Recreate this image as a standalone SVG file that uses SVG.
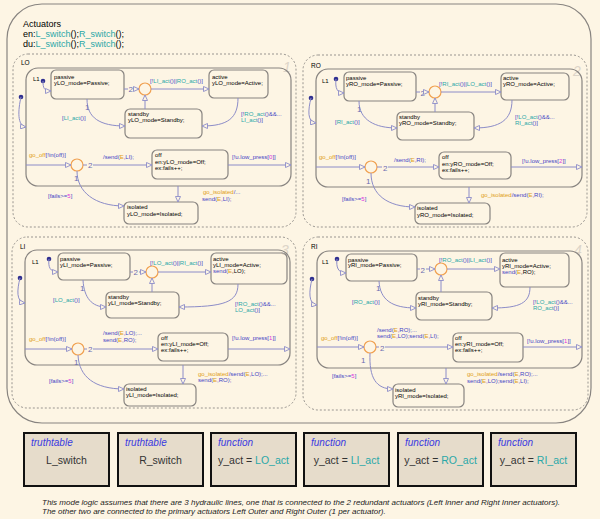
<svg xmlns="http://www.w3.org/2000/svg" width="600" height="519" viewBox="0 0 600 519">
<defs>
<marker id="ah" markerWidth="7" markerHeight="6" refX="6" refY="3" orient="auto" markerUnits="userSpaceOnUse"><path d="M0.5,0.5 L6,3 L0.5,5.5 Z" fill="#fdf5e4" stroke="#8c8cc8" stroke-width="0.9"/></marker>
</defs>
<style>
text{font-family:"Liberation Sans",Arial,sans-serif;font-size:6px;fill:#000}
.st{fill:none;stroke:#888480;stroke-width:1.2}
.dash{fill:none;stroke:#999590;stroke-width:1;stroke-dasharray:2 2}
.tr{fill:none;stroke:#8c8cc8;stroke-width:1;marker-end:url(#ah)}
.ln{fill:none;stroke:#8c8cc8;stroke-width:1}
.jn{fill:#fdf5e4;stroke:#f0a050;stroke-width:1.2}
.dot{fill:#303090}
.c{fill:#4444c4}
.f{fill:#2aa8a8}
.e{fill:#e0a020}
.n{fill:#e030e0}
.k{fill:#000}
.jl{font-size:8px;fill:#6c6cb0}
.rn{font-size:14px;font-style:italic;fill:#dcd4c8}
.rl{font-size:6.5px}
.hd{font-size:9px}
.bx{fill:#e6dccb;stroke:#111;stroke-width:2}
.bt{font-size:10px;font-style:italic;fill:#3a3ae0}
.bm{font-size:10.5px;fill:#333}
.fn{font-size:8px;font-style:italic;fill:#222}
</style>
<rect x="0" y="0" width="600" height="519" fill="#fdf5e4"/>

<g id="Actuators">
<rect class="st" x="7" y="4" width="584" height="419" rx="35" stroke="#a09c98"/>
<text class="hd" x="23" y="27">Actuators</text>
<text class="hd" x="23" y="37">en:<tspan class="f">L_switch</tspan>();<tspan class="f">R_switch</tspan>();</text>
<text class="hd" x="23" y="47">du:<tspan class="f">L_switch</tspan>();<tspan class="f">R_switch</tspan>();</text>
</g>

<!-- LO -->
<g id="LO">
<rect class="dash" x="13" y="54" width="283" height="173" rx="15"/>
<text class="rl" x="21" y="65">LO</text>
<text class="rn" x="283" y="72">1</text>
</g>
<g id="LO_L1"><rect class="st" x="26" y="68" width="265" height="118" rx="12"/><text x="33" y="80.5">L1</text></g>
<g id="LO_passive"><rect class="st" x="51" y="70" width="73" height="29" rx="5"/><text x="54" y="78.5">passive</text><text x="54" y="85">yLO_mode=Passive;</text></g>
<g id="LO_active"><rect class="st" x="209" y="70" width="59" height="28" rx="5"/><text x="212" y="78.5">active</text><text x="212" y="85">yLO_mode=Active;</text></g>
<g id="LO_standby"><rect class="st" x="125" y="109" width="77" height="29" rx="5"/><text x="128" y="115.5">standby</text><text x="128" y="121.5">yLO_mode=Standby;</text></g>
<g id="LO_off"><rect class="st" x="152" y="150" width="76" height="29" rx="5"/><text x="155" y="157">off</text><text x="155" y="163.5">en:yLO_mode=Off;</text><text x="155" y="169.5">ex:fails++;</text></g>
<g id="LO_isolated"><rect class="st" x="124" y="202" width="74" height="22" rx="5"/><text x="127" y="209">isolated</text><text x="127" y="215.5">yLO_mode=Isolated;</text></g>
<g id="LO_j1"><circle class="jn" cx="145" cy="89" r="6"/></g>
<g id="LO_j2"><circle class="jn" cx="77" cy="165" r="6"/></g>

<!-- RO -->
<g id="RO">
<rect class="dash" x="303" y="55" width="284" height="172" rx="15"/>
<text class="rl" x="311" y="68">RO</text>
<text class="rn" x="573" y="76">2</text>
</g>
<g id="RO_L1"><rect class="st" x="316" y="69" width="266" height="118" rx="12"/><text x="322" y="82.5">L1</text></g>
<g id="RO_passive"><rect class="st" x="344" y="72" width="72" height="29" rx="5"/><text x="346" y="79.5">passive</text><text x="346" y="85.5">yRO_mode=Passive;</text></g>
<g id="RO_active"><rect class="st" x="501" y="73" width="68" height="27" rx="5"/><text x="503" y="79.5">active</text><text x="503" y="85.5">yRO_mode=Active;</text></g>
<g id="RO_standby"><rect class="st" x="397" y="112" width="77" height="28" rx="5"/><text x="399" y="119">standby</text><text x="399" y="125">yRO_mode=Standby;</text></g>
<g id="RO_off"><rect class="st" x="439" y="152" width="72" height="27" rx="5"/><text x="442" y="159">off</text><text x="442" y="165.5">en:yRO_mode=Off;</text><text x="442" y="171.5">ex:fails++;</text></g>
<g id="RO_isolated"><rect class="st" x="415" y="203" width="75" height="21" rx="5"/><text x="417" y="210">isolated</text><text x="417" y="216.5">yRO_mode=Isolated;</text></g>
<g id="RO_j1"><circle class="jn" cx="435" cy="92" r="6"/></g>
<g id="RO_j2"><circle class="jn" cx="371" cy="167" r="6"/></g>

<!-- LI -->
<g id="LI">
<rect class="dash" x="12" y="237" width="284" height="171" rx="15"/>
<text class="rl" x="20" y="249">LI</text>
<text class="rn" x="281" y="255">3</text>
</g>
<g id="LI_L1"><rect class="st" x="25" y="250" width="265" height="115" rx="12"/><text x="32" y="264">L1</text></g>
<g id="LI_passive"><rect class="st" x="58" y="253" width="72" height="27" rx="5"/><text x="60" y="260.5">passive</text><text x="60" y="266.5">yLI_mode=Passive;</text></g>
<g id="LI_active"><rect class="st" x="211" y="253" width="76" height="31" rx="5"/><text x="213" y="260.5">active</text><text x="213" y="266.5">yLI_mode=Active;</text><text x="213" y="272.5"><tspan class="c">send(</tspan><tspan class="e">E</tspan>,LO);</text></g>
<g id="LI_standby"><rect class="st" x="106" y="292" width="73" height="26" rx="5"/><text x="108" y="299">standby</text><text x="108" y="304.5">yLI_mode=Standby;</text></g>
<g id="LI_off"><rect class="st" x="158" y="333" width="70" height="28" rx="5"/><text x="161" y="339.5">off</text><text x="161" y="346">en:yLI_mode=Off;</text><text x="161" y="352">ex:fails++;</text></g>
<g id="LI_isolated"><rect class="st" x="124" y="384" width="72" height="22" rx="5"/><text x="126" y="390.5">isolated</text><text x="126" y="396.5">yLI_mode=Isolated;</text></g>
<g id="LI_j1"><circle class="jn" cx="152" cy="272" r="6"/></g>
<g id="LI_j2"><circle class="jn" cx="78" cy="349" r="6"/></g>

<!-- RI -->
<g id="RI">
<rect class="dash" x="303" y="237" width="285" height="173" rx="15"/>
<text class="rl" x="311" y="249">RI</text>
<text class="rn" x="574" y="255">4</text>
</g>
<g id="RI_L1"><rect class="st" x="317" y="251" width="265" height="117" rx="12"/><text x="322" y="264">L1</text></g>
<g id="RI_passive"><rect class="st" x="346" y="254" width="71" height="27" rx="5"/><text x="348" y="261.5">passive</text><text x="348" y="267">yRI_mode=Passive;</text></g>
<g id="RI_active"><rect class="st" x="500" y="253" width="69" height="34" rx="5"/><text x="502" y="261.5">active</text><text x="502" y="267.5">yRI_mode=Active;</text><text x="502" y="273.5"><tspan class="c">send(</tspan><tspan class="e">E</tspan>,RO);</text></g>
<g id="RI_standby"><rect class="st" x="416" y="292" width="76" height="28" rx="5"/><text x="418" y="299.5">standby</text><text x="418" y="305.5">yRI_mode=Standby;</text></g>
<g id="RI_off"><rect class="st" x="453" y="333" width="70" height="29" rx="5"/><text x="455" y="339.5">off</text><text x="455" y="345.5">en:yRI_mode=Off;</text><text x="455" y="351.5">ex:fails++;</text></g>
<g id="RI_isolated"><rect class="st" x="393" y="384" width="71" height="23" rx="5"/><text x="395" y="391.5">isolated</text><text x="395" y="397.5">yRI_mode=Isolated;</text></g>
<g id="RI_j1"><circle class="jn" cx="441" cy="269" r="6"/></g>
<g id="RI_j2"><circle class="jn" cx="370" cy="347" r="6"/></g>

<g id="connectors">
<!-- LO -->
<circle class="dot" cx="43" cy="81" r="2.3"/>
<path class="tr" d="M43,81 C43,88 44,91 51,91"/>
<circle class="dot" cx="21" cy="97" r="2.3"/>
<path class="tr" d="M21,97 C18,110 17,126 26,127"/>
<path class="ln" d="M124,89 L128,89"/>
<text class="jl" x="128.5" y="92">2</text>
<path class="tr" d="M133,89 L139,89"/>
<path class="tr" d="M151,89 L209,89"/>
<path class="tr" d="M145,109 L145,95"/>
<path class="tr" d="M87,99 C87,118 100,126 125,126"/>
<text class="jl" x="85" y="109.5">1</text>
<path class="tr" d="M238,98 C238,118 228,126 202,126"/>
<path class="tr" d="M26,165 L71,165"/>
<path class="ln" d="M83,165 L87,165"/>
<text class="jl" x="88" y="168">2</text>
<path class="tr" d="M93,165 L152,165"/>
<path class="tr" d="M228,165 L291,165"/>
<path class="tr" d="M77,171 C77,192 95,206 124,206"/>
<text class="jl" x="74" y="180.5">1</text>
<path class="tr" d="M178,186 L178,202"/>
<text x="150" y="82.5"><tspan class="c">[!</tspan><tspan class="f">LI_act</tspan><tspan class="c">()||</tspan><tspan class="f">RO_act</tspan><tspan class="c">()]</tspan></text>
<text x="62" y="120"><tspan class="c">[</tspan><tspan class="f">LI_act</tspan><tspan class="c">()]</tspan></text>
<text x="241" y="115.5"><tspan class="c">[!</tspan><tspan class="f">RO_act</tspan><tspan class="c">()&amp;&amp;...</tspan></text>
<text x="241" y="121.5"><tspan class="f">LI_act</tspan><tspan class="c">()]</tspan></text>
<text x="29" y="156.5"><tspan class="e">go_off</tspan><tspan class="c">[!in(off)]</tspan></text>
<text x="103" y="159"><tspan class="c">/send(</tspan><tspan class="e">E</tspan><tspan class="c">,LI);</tspan></text>
<text x="232" y="159"><tspan class="c">[!u.low_press[</tspan><tspan class="n">0</tspan><tspan class="c">]]</tspan></text>
<text x="48" y="198"><tspan class="c">[fails&gt;=</tspan><tspan class="n">5</tspan><tspan class="c">]</tspan></text>
<text x="203" y="194"><tspan class="e">go_isolated</tspan><tspan class="c">/...</tspan></text>
<text x="202" y="200.5"><tspan class="c">send(</tspan><tspan class="e">E</tspan><tspan class="c">,LI);</tspan></text>

<!-- RO -->
<circle class="dot" cx="336" cy="79" r="2.3"/>
<path class="tr" d="M336,79 C335,88 337,93 344,93"/>
<circle class="dot" cx="311" cy="98" r="2.3"/>
<path class="tr" d="M311,98 C308,110 307,122 316,123"/>
<path class="ln" d="M416,92 L420,92"/>
<text class="jl" x="420.5" y="95.5">2</text>
<path class="tr" d="M425,92 L429,92"/>
<path class="tr" d="M441,92 L501,92"/>
<path class="tr" d="M435,112 L435,98"/>
<path class="tr" d="M359,101 C359,120 375,128 397,128"/>
<text class="jl" x="357" y="112">1</text>
<path class="tr" d="M512,100 C512,120 500,128 474,128"/>
<path class="tr" d="M316,167 L365,167"/>
<path class="ln" d="M377,167 L382,167"/>
<text class="jl" x="383" y="170.5">2</text>
<path class="tr" d="M388,167 L439,167"/>
<path class="tr" d="M511,167 L582,167"/>
<path class="tr" d="M371,173 C371,195 388,207 415,207"/>
<text class="jl" x="366" y="184">1</text>
<path class="tr" d="M469,187 L469,203"/>
<text x="439" y="85.5"><tspan class="c">[!</tspan><tspan class="f">RI_act</tspan><tspan class="c">()||</tspan><tspan class="f">LO_act</tspan><tspan class="c">()]</tspan></text>
<text x="335" y="124"><tspan class="c">[</tspan><tspan class="f">RI_act</tspan><tspan class="c">()]</tspan></text>
<text x="515" y="119"><tspan class="c">[!</tspan><tspan class="f">LO_act</tspan><tspan class="c">()&amp;&amp;...</tspan></text>
<text x="515" y="124.5"><tspan class="f">RI_act</tspan><tspan class="c">()]</tspan></text>
<text x="319" y="159"><tspan class="e">go_off</tspan><tspan class="c">[!in(off)]</tspan></text>
<text x="394" y="161.5"><tspan class="c">/send(</tspan><tspan class="e">E</tspan><tspan class="c">,RI);</tspan></text>
<text x="522" y="162.5"><tspan class="c">[!u.low_press[</tspan><tspan class="n">2</tspan><tspan class="c">]]</tspan></text>
<text x="342" y="200.5"><tspan class="c">[fails&gt;=</tspan><tspan class="n">5</tspan><tspan class="c">]</tspan></text>
<text x="481" y="196.5"><tspan class="e">go_isolated</tspan><tspan class="c">/send(</tspan><tspan class="e">E</tspan><tspan class="c">,RI);</tspan></text>

<!-- LI -->
<circle class="dot" cx="49" cy="259" r="2.3"/>
<path class="tr" d="M49,259 C48,267 50,272 58,272"/>
<circle class="dot" cx="20" cy="278" r="2.3"/>
<path class="tr" d="M20,278 C17,290 16,302 25,303"/>
<path class="ln" d="M130,272 L133,272"/>
<text class="jl" x="133.5" y="275">2</text>
<path class="tr" d="M139,272 L146,272"/>
<path class="tr" d="M158,272 L211,272"/>
<path class="tr" d="M152,292 L152,278"/>
<path class="tr" d="M83,280 C84,298 92,307 106,307"/>
<text class="jl" x="80" y="291">1</text>
<path class="tr" d="M238,284 C238,302 225,307 179,307"/>
<path class="tr" d="M25,349 L72,349"/>
<path class="ln" d="M84,349 L87,349"/>
<text class="jl" x="88" y="352">2</text>
<path class="tr" d="M93,349 L158,349"/>
<path class="tr" d="M228,349 L290,349"/>
<path class="tr" d="M78,355 C79,377 95,389 124,389"/>
<text class="jl" x="74" y="365">1</text>
<path class="tr" d="M183,365 L183,384"/>
<text x="150" y="264.5"><tspan class="c">[!</tspan><tspan class="f">LO_act</tspan><tspan class="c">()||</tspan><tspan class="f">RI_act</tspan><tspan class="c">()]</tspan></text>
<text x="53" y="301.5"><tspan class="c">[</tspan><tspan class="f">LO_act</tspan><tspan class="c">()]</tspan></text>
<text x="235" y="305.5"><tspan class="c">[!</tspan><tspan class="f">RO_act</tspan><tspan class="c">()&amp;&amp;...</tspan></text>
<text x="235" y="311.5"><tspan class="f">LO_act</tspan><tspan class="c">()]</tspan></text>
<text x="29" y="340.5"><tspan class="e">go_off</tspan><tspan class="c">[!in(off)]</tspan></text>
<text x="103" y="335"><tspan class="c">/send(</tspan><tspan class="e">E</tspan><tspan class="c">,LO);...</tspan></text>
<text x="103" y="341.5"><tspan class="c">send(</tspan><tspan class="e">E</tspan><tspan class="c">,RO);</tspan></text>
<text x="232" y="340"><tspan class="c">[!u.low_press[</tspan><tspan class="n">1</tspan><tspan class="c">]]</tspan></text>
<text x="49" y="382.5"><tspan class="c">[fails&gt;=</tspan><tspan class="n">5</tspan><tspan class="c">]</tspan></text>
<text x="198" y="375.5"><tspan class="e">go_isolated</tspan><tspan class="c">/send(</tspan><tspan class="e">E</tspan><tspan class="c">,LO);...</tspan></text>
<text x="198" y="381.5"><tspan class="c">send(</tspan><tspan class="e">E</tspan><tspan class="c">,RO);</tspan></text>

<!-- RI -->
<circle class="dot" cx="337" cy="259" r="2.3"/>
<path class="tr" d="M337,259 C336,267 338,273 346,273"/>
<circle class="dot" cx="312" cy="279" r="2.3"/>
<path class="tr" d="M312,279 C309,291 308,304 317,305"/>
<path class="ln" d="M417,269 L420,269"/>
<text class="jl" x="420.5" y="272.5">2</text>
<path class="tr" d="M426,269 L435,269"/>
<path class="tr" d="M447,269 L500,269"/>
<path class="tr" d="M441,292 L441,275"/>
<path class="tr" d="M379,281 C380,300 392,308 416,308"/>
<text class="jl" x="376" y="291">1</text>
<path class="tr" d="M530,287 C530,303 520,308 492,308"/>
<path class="tr" d="M317,347 L364,347"/>
<path class="ln" d="M376,347 L379,347"/>
<text class="jl" x="380" y="350.5">2</text>
<path class="tr" d="M385,347 L453,347"/>
<path class="tr" d="M523,347 L582,347"/>
<path class="tr" d="M370,353 C369,378 376,389 393,389"/>
<text class="jl" x="361" y="363">1</text>
<path class="tr" d="M446,368 L446,384"/>
<text x="439" y="261.5"><tspan class="c">[!</tspan><tspan class="f">RO_act</tspan><tspan class="c">()||</tspan><tspan class="f">LI_act</tspan><tspan class="c">()]</tspan></text>
<text x="352" y="304"><tspan class="c">[</tspan><tspan class="f">RO_act</tspan><tspan class="c">()]</tspan></text>
<text x="533" y="304"><tspan class="c">[!</tspan><tspan class="f">LO_act</tspan><tspan class="c">()&amp;&amp;...</tspan></text>
<text x="533" y="310"><tspan class="f">RO_act</tspan><tspan class="c">()]</tspan></text>
<text x="321" y="339.5"><tspan class="e">go_off</tspan><tspan class="c">[!in(off)]</tspan></text>
<text x="377" y="331.5"><tspan class="c">/send(</tspan><tspan class="e">E</tspan><tspan class="c">,RO);...</tspan></text>
<text x="377" y="337.5"><tspan class="c">send(</tspan><tspan class="e">E</tspan><tspan class="c">,LO);send(</tspan><tspan class="e">E</tspan><tspan class="c">,LI);</tspan></text>
<text x="527" y="343"><tspan class="c">[!u.low_press[</tspan><tspan class="n">1</tspan><tspan class="c">]]</tspan></text>
<text x="332" y="377.5"><tspan class="c">[fails&gt;=</tspan><tspan class="n">5</tspan><tspan class="c">]</tspan></text>
<text x="467" y="376"><tspan class="e">go_isolated</tspan><tspan class="c">/send(</tspan><tspan class="e">E</tspan><tspan class="c">,RO);...</tspan></text>
<text x="467" y="383"><tspan class="c">send(</tspan><tspan class="e">E</tspan><tspan class="c">,LO);send(</tspan><tspan class="e">E</tspan><tspan class="c">,LI);</tspan></text>
</g>

<g id="tt_L_switch"><rect class="bx" x="24" y="433" width="85" height="53"/><text class="bt" x="31" y="446">truthtable</text><text class="bm" x="66.5" y="464" text-anchor="middle">L_switch</text></g>
<g id="tt_R_switch"><rect class="bx" x="118" y="433" width="85" height="53"/><text class="bt" x="125" y="446">truthtable</text><text class="bm" x="160.5" y="464" text-anchor="middle">R_switch</text></g>
<g id="fn_LO"><rect class="bx" x="211" y="433" width="85" height="53"/><text class="bt" x="218" y="446">function</text><text class="bm" x="253.5" y="464" text-anchor="middle">y_act = <tspan class="f">LO_act</tspan></text></g>
<g id="fn_LI"><rect class="bx" x="304" y="433" width="85" height="53"/><text class="bt" x="311" y="446">function</text><text class="bm" x="346.5" y="464" text-anchor="middle">y_act = <tspan class="f">LI_act</tspan></text></g>
<g id="fn_RO"><rect class="bx" x="398" y="433" width="85" height="53"/><text class="bt" x="405" y="446">function</text><text class="bm" x="440.5" y="464" text-anchor="middle">y_act = <tspan class="f">RO_act</tspan></text></g>
<g id="fn_RI"><rect class="bx" x="491" y="433" width="85" height="53"/><text class="bt" x="498" y="446">function</text><text class="bm" x="533.5" y="464" text-anchor="middle">y_act = <tspan class="f">RI_act</tspan></text></g>

<g id="note">
<text class="fn" x="42" y="505">This mode logic assumes that there are 3 hydraulic lines, one that is connected to the 2 redundant actuators (Left Inner and Right Inner actuators).</text>
<text class="fn" x="42" y="514">The other two are connected to the primary actuators Left Outer and Right Outer (1 per actuator).</text>
</g>
</svg>
